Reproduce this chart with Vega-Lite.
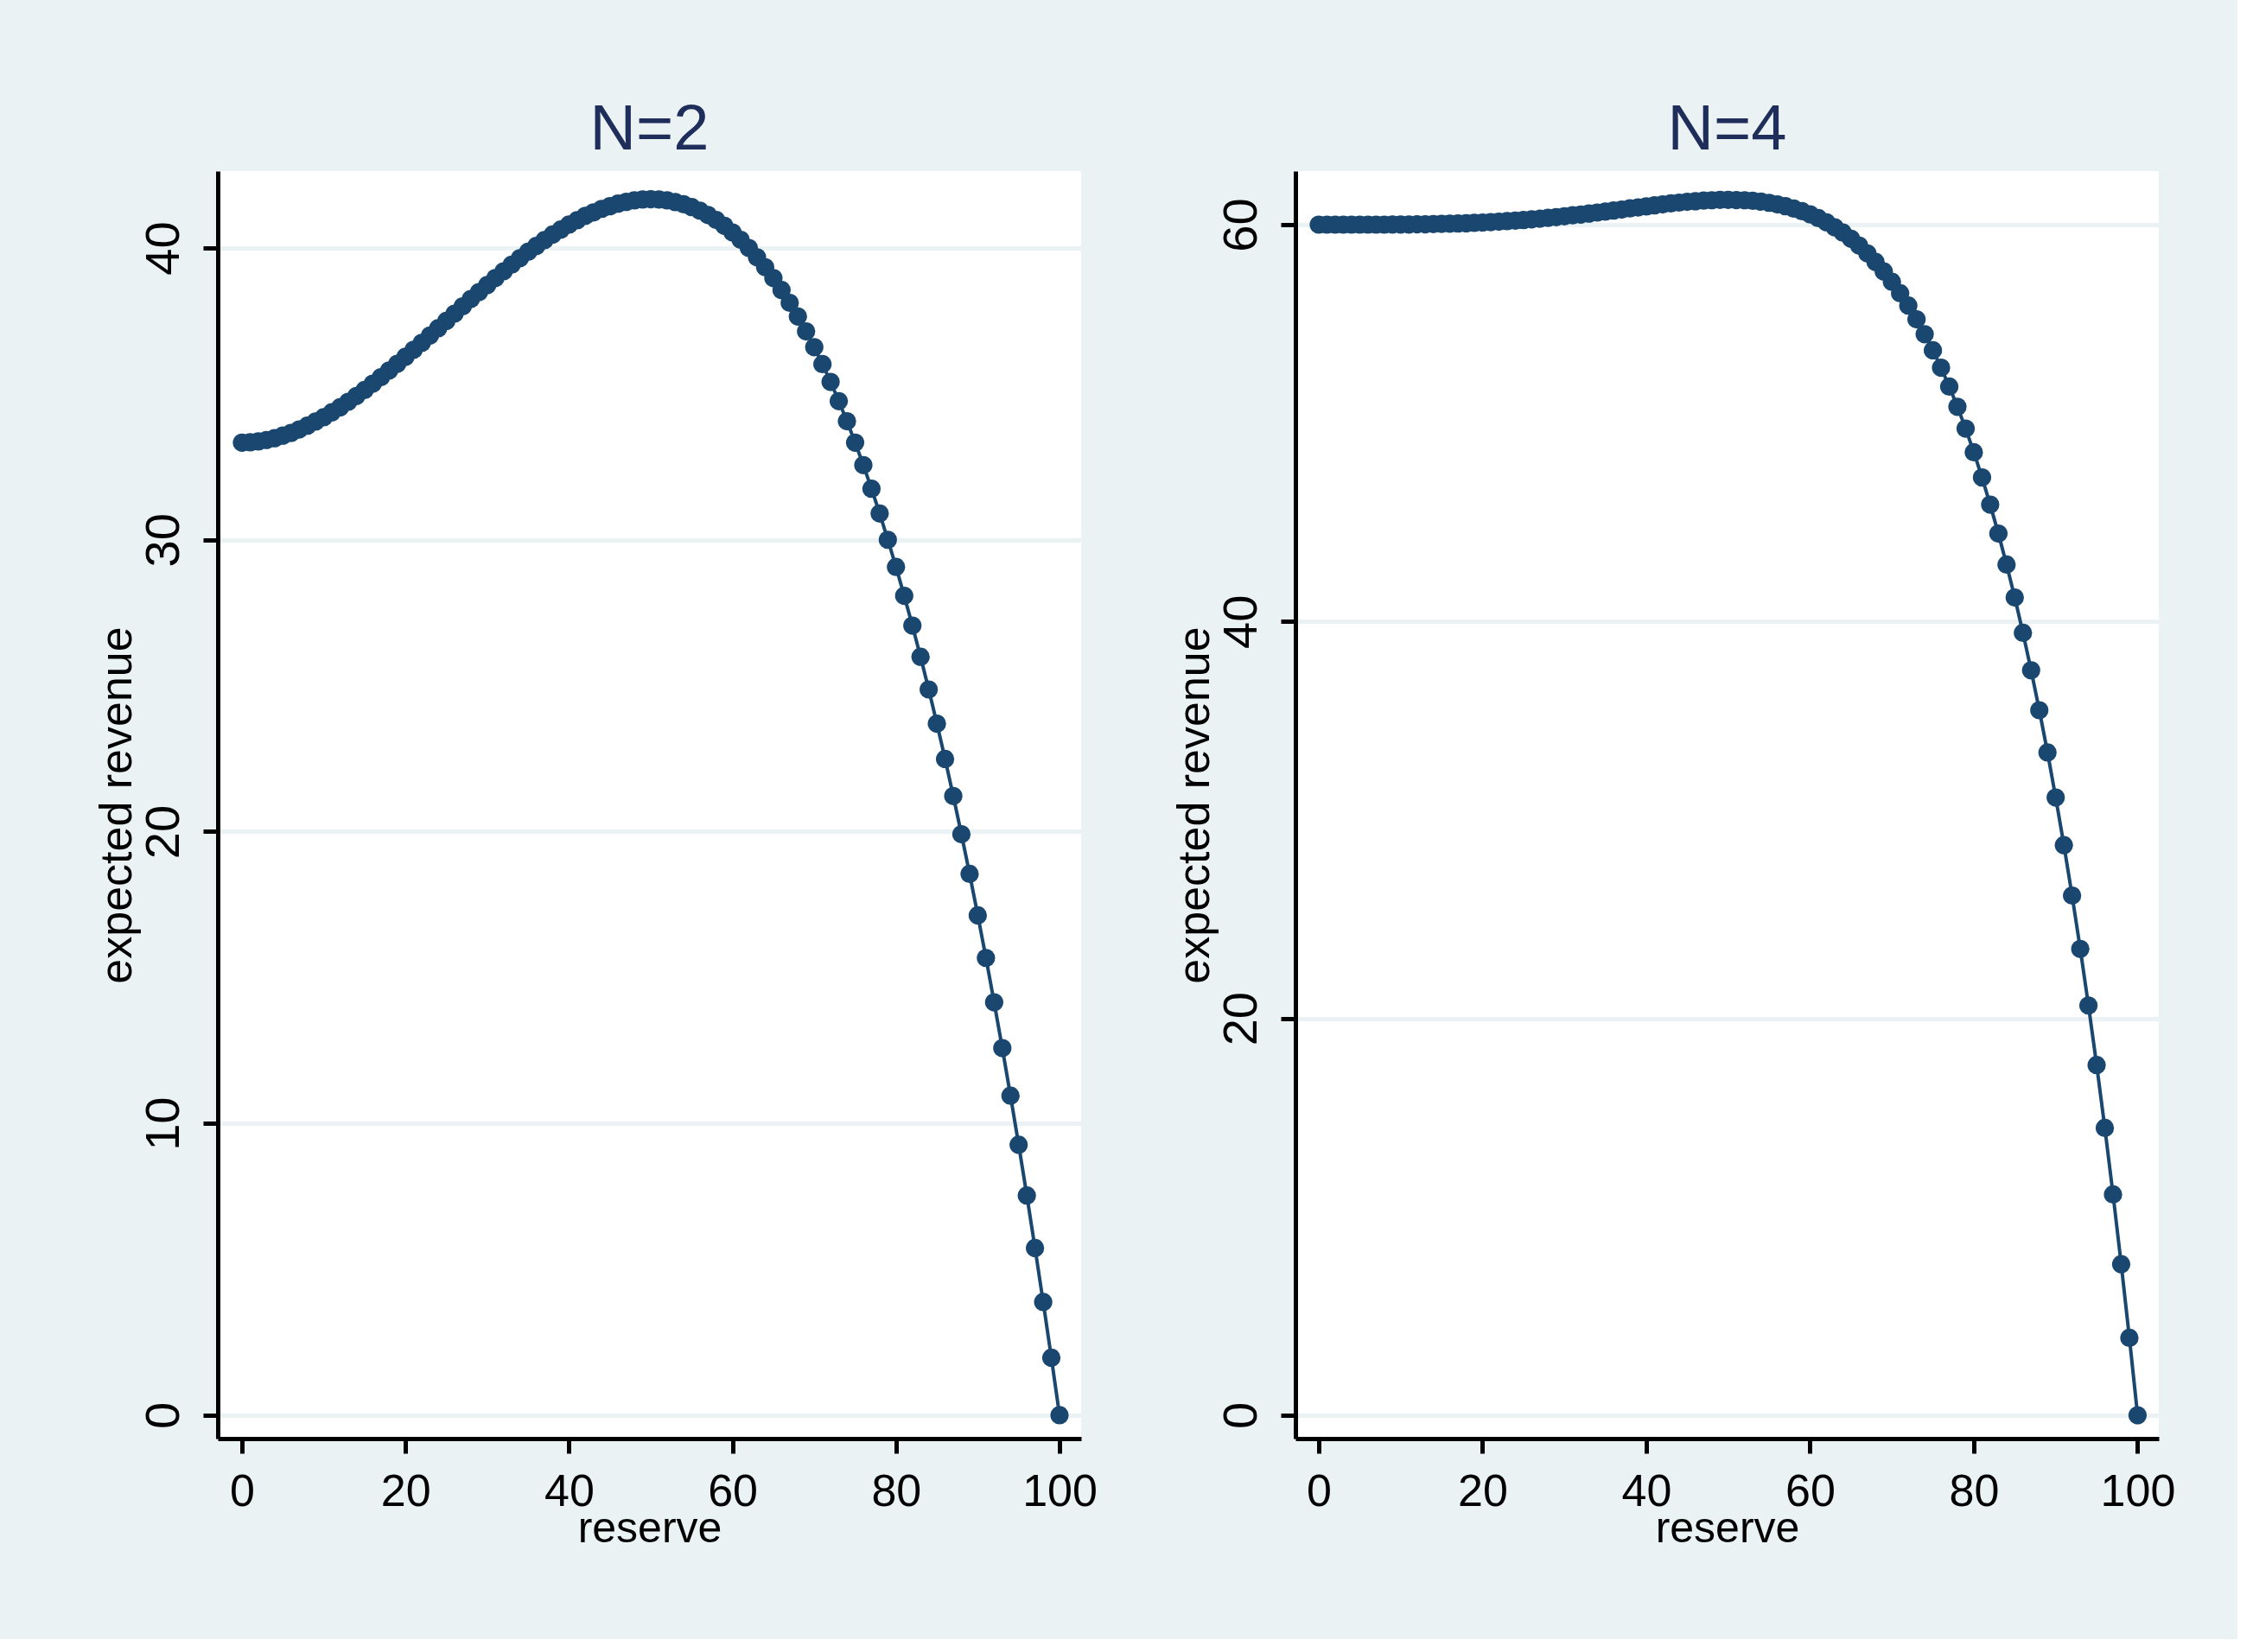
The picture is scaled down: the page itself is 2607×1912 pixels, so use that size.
{
  "$schema": "https://vega.github.io/schema/vega-lite/v6.json",
  "background": "#EAF2F3",
  "padding": {"left": 109, "top": 114, "right": 72, "bottom": 103},
  "datasets": {
    "n2": [
      {"reserve":0,"revenue":33.33},{"reserve":1,"revenue":33.34},{"reserve":2,"revenue":33.37},{"reserve":3,"revenue":33.42},{"reserve":4,"revenue":33.48},{"reserve":5,"revenue":33.57},{"reserve":6,"revenue":33.66},{"reserve":7,"revenue":33.78},{"reserve":8,"revenue":33.91},{"reserve":9,"revenue":34.05},
      {"reserve":10,"revenue":34.20},{"reserve":11,"revenue":34.37},{"reserve":12,"revenue":34.54},{"reserve":13,"revenue":34.73},{"reserve":14,"revenue":34.93},{"reserve":15,"revenue":35.13},{"reserve":16,"revenue":35.35},{"reserve":17,"revenue":35.57},{"reserve":18,"revenue":35.80},{"reserve":19,"revenue":36.03},
      {"reserve":20,"revenue":36.27},{"reserve":21,"revenue":36.51},{"reserve":22,"revenue":36.75},{"reserve":23,"revenue":37.00},{"reserve":24,"revenue":37.25},{"reserve":25,"revenue":37.50},{"reserve":26,"revenue":37.75},{"reserve":27,"revenue":38.00},{"reserve":28,"revenue":38.25},{"reserve":29,"revenue":38.49},
      {"reserve":30,"revenue":38.73},{"reserve":31,"revenue":38.97},{"reserve":32,"revenue":39.20},{"reserve":33,"revenue":39.43},{"reserve":34,"revenue":39.65},{"reserve":35,"revenue":39.87},{"reserve":36,"revenue":40.07},{"reserve":37,"revenue":40.27},{"reserve":38,"revenue":40.46},{"reserve":39,"revenue":40.63},
      {"reserve":40,"revenue":40.80},{"reserve":41,"revenue":40.95},{"reserve":42,"revenue":41.10},{"reserve":43,"revenue":41.22},{"reserve":44,"revenue":41.34},{"reserve":45,"revenue":41.43},{"reserve":46,"revenue":41.52},{"reserve":47,"revenue":41.58},{"reserve":48,"revenue":41.63},{"reserve":49,"revenue":41.66},
      {"reserve":50,"revenue":41.67},{"reserve":51,"revenue":41.66},{"reserve":52,"revenue":41.63},{"reserve":53,"revenue":41.57},{"reserve":54,"revenue":41.50},{"reserve":55,"revenue":41.40},{"reserve":56,"revenue":41.28},{"reserve":57,"revenue":41.13},{"reserve":58,"revenue":40.96},{"reserve":59,"revenue":40.76},
      {"reserve":60,"revenue":40.53},{"reserve":61,"revenue":40.28},{"reserve":62,"revenue":40.00},{"reserve":63,"revenue":39.68},{"reserve":64,"revenue":39.34},{"reserve":65,"revenue":38.97},{"reserve":66,"revenue":38.56},{"reserve":67,"revenue":38.12},{"reserve":68,"revenue":37.65},{"reserve":69,"revenue":37.14},
      {"reserve":70,"revenue":36.60},{"reserve":71,"revenue":36.02},{"reserve":72,"revenue":35.41},{"reserve":73,"revenue":34.75},{"reserve":74,"revenue":34.06},{"reserve":75,"revenue":33.33},{"reserve":76,"revenue":32.56},{"reserve":77,"revenue":31.75},{"reserve":78,"revenue":30.90},{"reserve":79,"revenue":30.00},
      {"reserve":80,"revenue":29.07},{"reserve":81,"revenue":28.08},{"reserve":82,"revenue":27.06},{"reserve":83,"revenue":25.99},{"reserve":84,"revenue":24.87},{"reserve":85,"revenue":23.70},{"reserve":86,"revenue":22.49},{"reserve":87,"revenue":21.22},{"reserve":88,"revenue":19.91},{"reserve":89,"revenue":18.55},
      {"reserve":90,"revenue":17.13},{"reserve":91,"revenue":15.67},{"reserve":92,"revenue":14.15},{"reserve":93,"revenue":12.58},{"reserve":94,"revenue":10.95},{"reserve":95,"revenue":9.27},{"reserve":96,"revenue":7.53},{"reserve":97,"revenue":5.73},{"reserve":98,"revenue":3.88},{"reserve":99,"revenue":1.97},
      {"reserve":100,"revenue":0}
    ],
    "n4": [
      {"reserve":0,"revenue":60},{"reserve":1,"revenue":60},{"reserve":2,"revenue":60},{"reserve":3,"revenue":60},{"reserve":4,"revenue":60},{"reserve":5,"revenue":60},{"reserve":6,"revenue":60},{"reserve":7,"revenue":60},{"reserve":8,"revenue":60},{"reserve":9,"revenue":60.01},
      {"reserve":10,"revenue":60.01},{"reserve":11,"revenue":60.01},{"reserve":12,"revenue":60.02},{"reserve":13,"revenue":60.02},{"reserve":14,"revenue":60.03},{"reserve":15,"revenue":60.04},{"reserve":16,"revenue":60.05},{"reserve":17,"revenue":60.06},{"reserve":18,"revenue":60.07},{"reserve":19,"revenue":60.09},
      {"reserve":20,"revenue":60.11},{"reserve":21,"revenue":60.13},{"reserve":22,"revenue":60.15},{"reserve":23,"revenue":60.18},{"reserve":24,"revenue":60.20},{"reserve":25,"revenue":60.23},{"reserve":26,"revenue":60.27},{"reserve":27,"revenue":60.30},{"reserve":28,"revenue":60.34},{"reserve":29,"revenue":60.38},
      {"reserve":30,"revenue":60.42},{"reserve":31,"revenue":60.47},{"reserve":32,"revenue":60.51},{"reserve":33,"revenue":60.56},{"reserve":34,"revenue":60.61},{"reserve":35,"revenue":60.66},{"reserve":36,"revenue":60.71},{"reserve":37,"revenue":60.76},{"reserve":38,"revenue":60.82},{"reserve":39,"revenue":60.87},
      {"reserve":40,"revenue":60.92},{"reserve":41,"revenue":60.97},{"reserve":42,"revenue":61.02},{"reserve":43,"revenue":61.07},{"reserve":44,"revenue":61.11},{"reserve":45,"revenue":61.15},{"reserve":46,"revenue":61.18},{"reserve":47,"revenue":61.21},{"reserve":48,"revenue":61.23},{"reserve":49,"revenue":61.25},
      {"reserve":50,"revenue":61.25},{"reserve":51,"revenue":61.24},{"reserve":52,"revenue":61.23},{"reserve":53,"revenue":61.20},{"reserve":54,"revenue":61.16},{"reserve":55,"revenue":61.10},{"reserve":56,"revenue":61.02},{"reserve":57,"revenue":60.93},{"reserve":58,"revenue":60.81},{"reserve":59,"revenue":60.68},
      {"reserve":60,"revenue":60.52},{"reserve":61,"revenue":60.33},{"reserve":62,"revenue":60.12},{"reserve":63,"revenue":59.87},{"reserve":64,"revenue":59.60},{"reserve":65,"revenue":59.29},{"reserve":66,"revenue":58.94},{"reserve":67,"revenue":58.55},{"reserve":68,"revenue":58.12},{"reserve":69,"revenue":57.64},
      {"reserve":70,"revenue":57.12},{"reserve":71,"revenue":56.54},{"reserve":72,"revenue":55.92},{"reserve":73,"revenue":55.23},{"reserve":74,"revenue":54.48},{"reserve":75,"revenue":53.67},{"reserve":76,"revenue":52.79},{"reserve":77,"revenue":51.84},{"reserve":78,"revenue":50.82},{"reserve":79,"revenue":49.72},
      {"reserve":80,"revenue":48.53},{"reserve":81,"revenue":47.26},{"reserve":82,"revenue":45.89},{"reserve":83,"revenue":44.43},{"reserve":84,"revenue":42.87},{"reserve":85,"revenue":41.21},{"reserve":86,"revenue":39.43},{"reserve":87,"revenue":37.54},{"reserve":88,"revenue":35.53},{"reserve":89,"revenue":33.40},
      {"reserve":90,"revenue":31.13},{"reserve":91,"revenue":28.73},{"reserve":92,"revenue":26.19},{"reserve":93,"revenue":23.50},{"reserve":94,"revenue":20.65},{"reserve":95,"revenue":17.65},{"reserve":96,"revenue":14.48},{"reserve":97,"revenue":11.13},{"reserve":98,"revenue":7.61},{"reserve":99,"revenue":3.90},
      {"reserve":100,"revenue":0}
    ]
  },
  "spacing": 248,
  "bounds": "flush",
  "hconcat": [
    {
      "width": 999,
      "height": 1467,
      "title": {"text": "N=2"},
      "data": {"name": "n2"},
      "encoding": {
        "x": {"field": "reserve", "type": "quantitative", "scale": {"domain": [-2.96, 102.64], "nice": false, "zero": false}, "axis": {"values": [0, 20, 40, 60, 80, 100], "title": "reserve"}},
        "y": {"field": "revenue", "type": "quantitative", "scale": {"domain": [-0.8, 42.635], "nice": false, "zero": false}, "axis": {"values": [0, 10, 20, 30, 40], "title": "expected revenue"}}
      },
      "layer": [
        {"mark": {"type": "line", "color": "#1A476F", "strokeWidth": 4}},
        {"mark": {"type": "point", "shape": "circle", "filled": true, "color": "#1A476F", "size": 450, "opacity": 1}}
      ]
    },
    {
      "width": 999,
      "height": 1467,
      "title": {"text": "N=4"},
      "data": {"name": "n4"},
      "encoding": {
        "x": {"field": "reserve", "type": "quantitative", "scale": {"domain": [-2.85, 102.59], "nice": false, "zero": false}, "axis": {"values": [0, 20, 40, 60, 80, 100], "title": "reserve"}},
        "y": {"field": "revenue", "type": "quantitative", "scale": {"domain": [-1.176, 62.7], "nice": false, "zero": false}, "axis": {"values": [0, 20, 40, 60], "title": "expected revenue"}}
      },
      "layer": [
        {"mark": {"type": "line", "color": "#1A476F", "strokeWidth": 4}},
        {"mark": {"type": "point", "shape": "circle", "filled": true, "color": "#1A476F", "size": 450, "opacity": 1}}
      ]
    }
  ],
  "config": {
    "view": {"fill": "white", "stroke": null},
    "axis": {
      "domainColor": "black",
      "domainWidth": 5,
      "tickColor": "black",
      "tickWidth": 5,
      "tickSize": 17,
      "labelColor": "black",
      "titleColor": "black",
      "titleFontWeight": "normal",
      "labelOverlap": false,
      "labelFlush": false
    },
    "axisX": {
      "grid": false,
      "labelFont": "Liberation Sans",
      "labelFontSize": 52,
      "labelBaseline": "alphabetic",
      "labelPadding": 60,
      "titleFont": "Liberation Sans",
      "titleFontSize": 50,
      "titleBaseline": "alphabetic",
      "titleY": 119
    },
    "axisY": {
      "grid": true,
      "gridColor": "#EAF2F3",
      "gridWidth": 5,
      "labelFont": "Liberation Sans",
      "labelFontSize": 56,
      "labelAngle": -90,
      "labelAlign": "center",
      "labelBaseline": "alphabetic",
      "labelPadding": 29,
      "titleFont": "Liberation Sans",
      "titleFontSize": 52,
      "titleAngle": -90,
      "titleBaseline": "alphabetic",
      "titleX": -101
    },
    "title": {
      "font": "Liberation Sans",
      "fontSize": 74,
      "fontWeight": "normal",
      "color": "#1E2D5A",
      "baseline": "alphabetic",
      "offset": 9,
      "anchor": "middle",
      "frame": "group"
    }
  }
}
